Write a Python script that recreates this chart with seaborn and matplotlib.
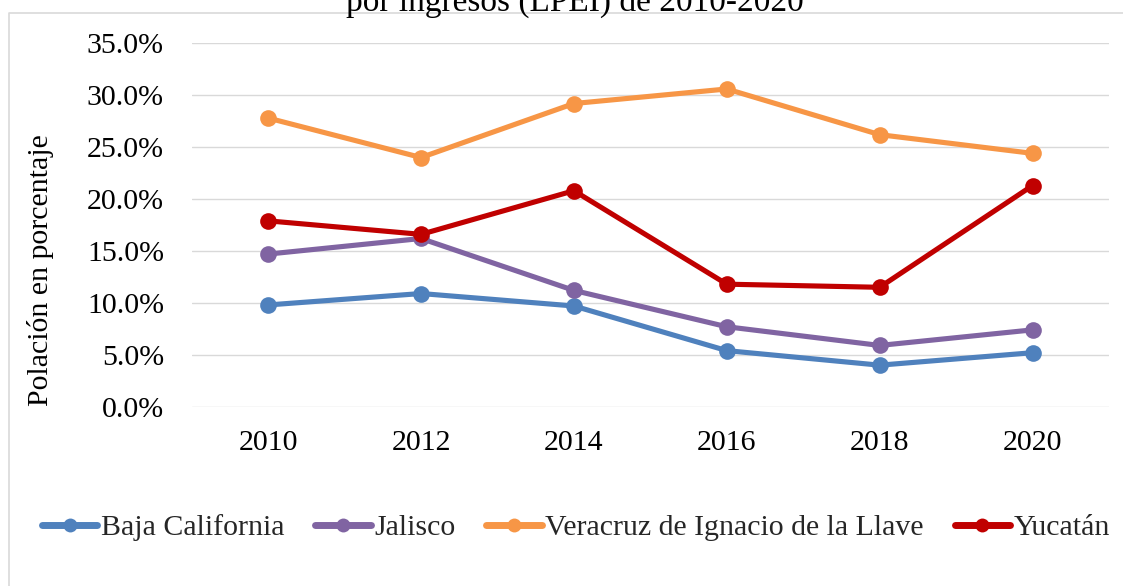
import numpy as np
import pandas as pd
import matplotlib
matplotlib.use("Agg")
import matplotlib.pyplot as plt
from matplotlib.lines import Line2D
from matplotlib.ticker import FuncFormatter
import seaborn as sns

years = ["2010", "2012", "2014", "2016", "2018", "2020"]
baja_california = [9.8, 10.9, 9.7, 5.4, 4.0, 5.2]
jalisco = [14.7, 16.2, 11.2, 7.7, 5.9, 7.4]
veracruz = [27.8, 24.0, 29.2, 30.6, 26.2, 24.4]
yucatan = [17.9, 16.6, 20.8, 11.8, 11.5, 21.3]
states = ["Baja California", "Jalisco", "Veracruz de Ignacio de la Llave", "Yucatán"]
colors = ["#4F81BD", "#8064A2", "#F79646", "#C00000"]
title_text = "por ingresos (LPEI) de 2010-2020"
y_label = "Polación en porcentaje"

series = [baja_california, jalisco, veracruz, yucatan]
rows = []
for st, vals in zip(states, series):
    for yr, v in zip(years, vals):
        rows.append({"year": yr, "value": v, "state": st})
df = pd.DataFrame(rows)

sns.set_theme(style="white")
plt.rcParams["font.family"] = ["Liberation Serif", "DejaVu Serif"]

W, H = 1123, 586
fig = plt.figure(figsize=(W / 100, H / 100), dpi=100)
ax = fig.add_axes([191.7 / W, 1 - 406.7 / H, (1109 - 191.7) / W, (406.7 - 43.3) / H])

sns.lineplot(data=df, x="year", y="value", hue="state", hue_order=states,
             palette=colors, marker="o", linewidth=3.7,
             errorbar=None, legend=False, sort=False, ax=ax)
for ln in ax.lines:
    ln.set_markersize(12)
    ln.set_markeredgewidth(0)
    ln.set_solid_capstyle("round")
    ln.set_solid_joinstyle("round")

ax.set_xlim(-0.5, 5.5)
ax.set_ylim(0, 35)
ax.set_yticks(np.arange(0, 35.1, 5))
ax.yaxis.set_major_formatter(FuncFormatter(lambda v, p: f"{v:.1f}%"))
ax.grid(axis="y", color="#D9D9D9", linewidth=1.0)
ax.grid(axis="x", visible=False)
ax.set_axisbelow(True)
for s in ax.spines.values():
    s.set_visible(False)
ax.tick_params(axis="both", length=0, labelsize=21.5, colors="black")
ax.tick_params(axis="x", pad=17)
ax.tick_params(axis="y", pad=20)
ax.set_xlabel("")
ax.set_ylabel("")

fig.text(41 / W, 1 - 270 / H, y_label, rotation=90, ha="center", va="center",
         fontsize=21.5, color="black")
fig.text(574.5 / W, 1 - 10.5 / H, title_text, ha="center", va="baseline",
         fontsize=24, color="black")

handles = ax.lines[:4]
leg = fig.legend(handles, states, loc="center", bbox_to_anchor=(576 / W, 1 - 528 / H),
                 ncol=4, frameon=False, fontsize=21.5, handlelength=1.86,
                 handletextpad=0.12, columnspacing=1.03, borderaxespad=0)
for lh in leg.legend_handles:
    lh.set_linewidth(5)
    lh.set_markersize(10)

fig.add_artist(Line2D([9 / W, 9 / W, 1], [0, 1 - 12.7 / H, 1 - 12.7 / H],
                      transform=fig.transFigure, color="#D9D9D9", linewidth=1.2))

fig.savefig("out.png", dpi=100)
